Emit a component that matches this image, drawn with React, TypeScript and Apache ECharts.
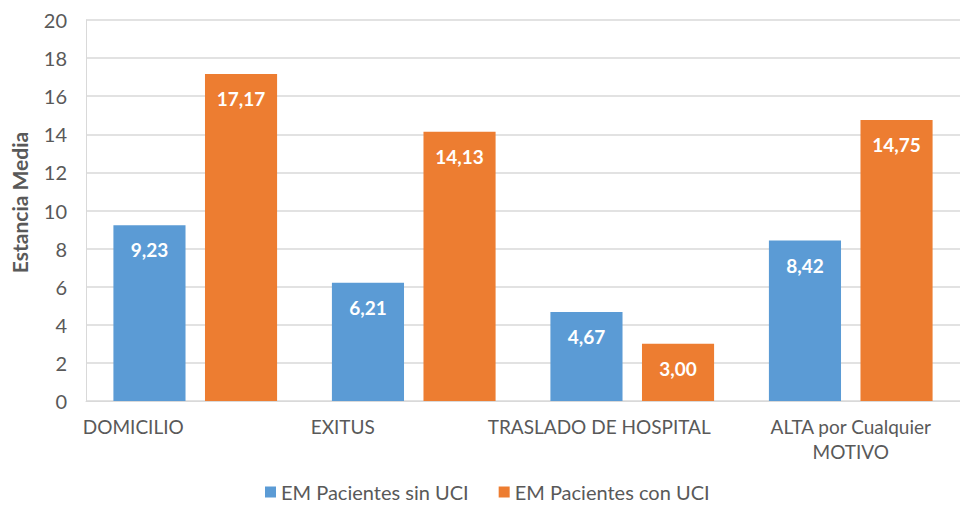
import React, { useEffect, useRef } from "react";
import * as echarts from "echarts";

const categories = ["DOMICILIO", "EXITUS", "TRASLADO DE HOSPITAL", "ALTA por Cualquier\nMOTIVO"];
const labelShift = [-62, -71, -33, 0];
const sinUci = [9.23, 6.21, 4.67, 8.42];
const conUci = [17.17, 14.13, 3.0, 14.75];
const seriesNames = ["EM Pacientes sin UCI", "EM Pacientes con UCI"];
const yTicks = { min: 0, max: 20, interval: 2 };

const FONT = "Lato, 'Open Sans', sans-serif";
const TEXT = "#595959";

export default function App() {
  const ref = useRef<HTMLDivElement>(null);
  useEffect(() => {
    const chart = echarts.init(ref.current!, null, { renderer: "svg" });
    const fmt = (p: any) => Number(p.value).toFixed(2).replace(".", ",");
    const label = {
      show: true,
      position: "insideTop",
      distance: 15,
      color: "#ffffff",
      fontWeight: "bold",
      fontSize: 19,
      fontFamily: FONT,
      formatter: fmt,
    };
    chart.setOption({
      animation: false,
      textStyle: { fontFamily: FONT },
      grid: { left: 86, right: -9, top: 20, bottom: 105, containLabel: false },
      legend: {
        data: seriesNames,
        left: 265,
        bottom: 3,
        padding: 0,
        itemWidth: 11,
        itemHeight: 11,
        itemGap: 30,
        icon: "rect",
        textStyle: { color: TEXT, fontSize: 20, fontFamily: FONT, lineHeight: 22 },
      },
      xAxis: {
        type: "category",
        data: categories.map((c, i) => ({
          value: c,
          textStyle: {
            padding: labelShift[i] < 0 ? [0, -2 * labelShift[i], 0, 0] : [0, 0, 0, 2 * labelShift[i]],
          },
        })),
        axisLine: { lineStyle: { color: "#d9d9d9", width: 1 } },
        axisTick: { show: false },
        axisLabel: {
          color: TEXT,
          fontSize: 19,
          fontFamily: FONT,
          margin: 13,
          lineHeight: 25,
          interval: 0,
        },
      },
      yAxis: {
        type: "value",
        min: yTicks.min,
        max: yTicks.max,
        interval: yTicks.interval,
        name: "Estancia Media",
        nameLocation: "middle",
        nameGap: 56,
        nameTextStyle: {
          color: TEXT,
          fontSize: 21,
          fontWeight: "bold",
          fontFamily: FONT,
          padding: [0, 0, 0, 16],
        },
        axisLine: { show: true, lineStyle: { color: "#d9d9d9" } },
        axisTick: { show: false },
        axisLabel: { color: TEXT, fontSize: 20, fontFamily: FONT, margin: 19 },
        splitLine: { lineStyle: { color: "#d9d9d9", width: 1.5 } },
      },
      series: [
        {
          name: seriesNames[0],
          type: "bar",
          data: sinUci,
          barWidth: "33%",
          barGap: "27%",
          itemStyle: { color: "#5b9bd5" },
          label,
        },
        {
          name: seriesNames[1],
          type: "bar",
          data: conUci,
          barWidth: "33%",
          barGap: "27%",
          itemStyle: { color: "#ed7d31" },
          label,
        },
      ],
    });
    return () => chart.dispose();
  }, []);
  return (
    <div
      ref={ref}
      style={{ position: "fixed", left: 0, top: 0, width: 960, height: 506, background: "#fff" }}
    />
  );
}
